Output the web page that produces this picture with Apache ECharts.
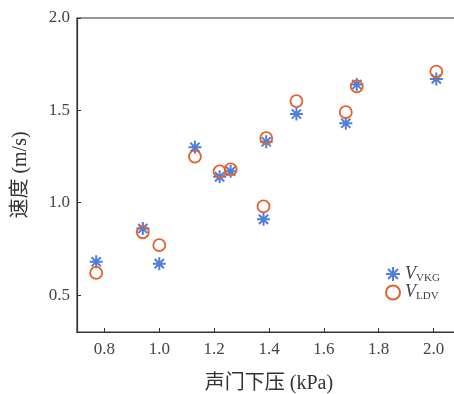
<!DOCTYPE html>
<html>
<head>
<meta charset="utf-8">
<script src="https://cdn.jsdelivr.net/npm/echarts@6/dist/echarts.min.js"></script>
<style>
  html, body { margin: 0; padding: 0; background: #fff; }
  #chart { width: 454px; height: 394px; }
</style>
</head>
<body>
<div id="chart"></div>
<script>
// 声门下压 (kPa)
const pressure = [0.77, 0.94, 1.00, 1.13, 1.22, 1.26, 1.38, 1.39, 1.50, 1.68, 1.72, 2.01];
// 速度 (m/s)
const vVKG = [0.68, 0.86, 0.67, 1.30, 1.14, 1.17, 0.91, 1.33, 1.48, 1.43, 1.64, 1.67];
const vLDV = [0.62, 0.84, 0.77, 1.25, 1.17, 1.18, 0.98, 1.35, 1.55, 1.49, 1.63, 1.71];
const xTicks = [0.8, 1.0, 1.2, 1.4, 1.6, 1.8, 2.0];
const yTicks = [0.5, 1.0, 1.5, 2.0];

const serif = '"Liberation Serif", "Noto Sans CJK SC", serif';
const starPath = 'path://M0,-10L0,10M-10,0L10,0M-7.07,-7.07L7.07,7.07M-7.07,7.07L7.07,-7.07';

const pairs = (ys) => pressure.map((x, i) => [x, ys[i]]);

const chart = echarts.init(document.getElementById('chart'));
chart.setOption({
  backgroundColor: '#fff',
  animation: false,
  grid: {
    left: 77, top: 18, width: 384, bottom: 62,
    outerBoundsMode: 'none', containLabel: false,
    show: true, borderColor: '#333', borderWidth: 1.2
  },
  xAxis: {
    type: 'value', min: 0.7, max: 2.1,
    name: '声门下压 (kPa)', nameLocation: 'middle', nameGap: 42,
    nameTextStyle: { fontFamily: serif, fontSize: 20, color: '#333' },
    axisLine: { show: true, lineStyle: { color: '#333', width: 1.2 } },
    axisTick: { inside: true, length: 4, customValues: xTicks, lineStyle: { color: '#333' } },
    axisLabel: {
      customValues: xTicks, margin: 9,
      fontFamily: serif, fontSize: 17, color: '#444',
      formatter: (v) => v.toFixed(1)
    },
    splitLine: { show: false }
  },
  yAxis: {
    type: 'value', min: 0.3, max: 2.0,
    name: '速度 (m/s)', nameLocation: 'middle', nameGap: 46,
    nameTextStyle: { fontFamily: serif, fontSize: 20, color: '#333' },
    axisLine: { show: true, lineStyle: { color: '#333', width: 1.2 } },
    axisTick: { inside: true, length: 4, customValues: yTicks, lineStyle: { color: '#333' } },
    axisLabel: {
      customValues: yTicks, margin: 7,
      fontFamily: serif, fontSize: 17, color: '#444',
      formatter: (v) => v.toFixed(1)
    },
    splitLine: { show: false }
  },
  legend: {
    orient: 'vertical', left: 380, top: 260, itemGap: 0,
    itemWidth: 14, itemHeight: 14,
    data: ['VKG', 'LDV'],
    formatter: (name) => '{v|V}{s|' + name + '}',
    textStyle: {
      rich: {
        v: { fontFamily: serif, fontStyle: 'italic', fontSize: 18, color: '#444' },
        s: { fontFamily: serif, fontSize: 11, color: '#444', padding: [8, 0, 0, 0] }
      }
    }
  },
  series: [
    {
      name: 'VKG', type: 'scatter', data: pairs(vVKG),
      symbol: starPath, symbolSize: 13, symbolKeepAspect: true,
      itemStyle: { color: '#4f7fd8', borderColor: '#4f7fd8', borderWidth: 2, opacity: 1 }
    },
    {
      name: 'LDV', type: 'scatter', data: pairs(vLDV),
      symbol: 'circle', symbolSize: 12,
      itemStyle: { color: 'transparent', borderColor: '#e2622c', borderWidth: 1.8, opacity: 1 }
    }
  ]
});
</script>
</body>
</html>
